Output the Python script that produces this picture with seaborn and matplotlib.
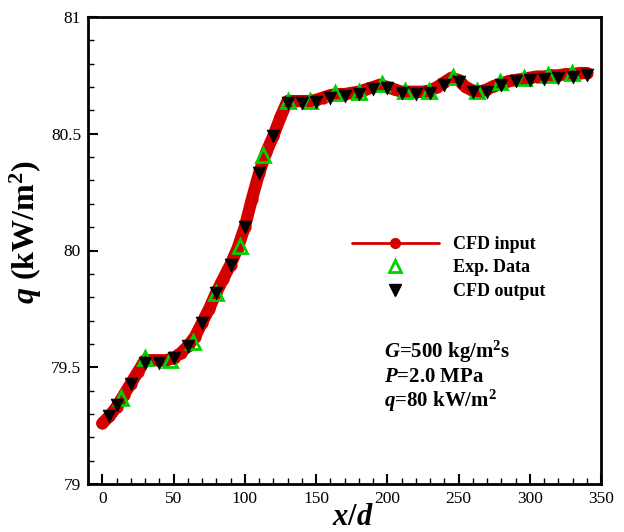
import numpy as np
import pandas as pd
import seaborn as sns
import matplotlib
matplotlib.use("Agg")
import matplotlib.pyplot as plt
from matplotlib.lines import Line2D
from matplotlib.ticker import MultipleLocator, FormatStrFormatter

# ---- data ----
cfd_in_x = [0, 5, 10, 15, 20, 25, 30, 35, 40, 45, 50, 55, 60, 65, 70, 75, 80, 85, 90, 95,
            100, 105, 110, 115, 120, 125, 130, 135, 140, 145, 150, 155, 160, 165, 170, 175,
            180, 185, 190, 195, 200, 205, 210, 215, 220, 225, 230, 235, 240, 245, 250, 255,
            260, 265, 270, 275, 280, 285, 290, 295, 300, 305, 310, 315, 320, 325, 330, 335, 340]
cfd_in_y = [79.26, 79.29, 79.33, 79.38, 79.43, 79.48, 79.53, 79.53, 79.53, 79.53, 79.54, 79.56,
            79.59, 79.63, 79.69, 79.75, 79.82, 79.88, 79.94, 80.01, 80.10, 80.22, 80.33, 80.42,
            80.49, 80.57, 80.64, 80.64, 80.64, 80.64, 80.645, 80.655, 80.665, 80.67, 80.67,
            80.675, 80.68, 80.69, 80.70, 80.71, 80.70, 80.69, 80.68, 80.68, 80.68, 80.68,
            80.685, 80.70, 80.72, 80.74, 80.73, 80.70, 80.685, 80.68, 80.69, 80.705, 80.715,
            80.725, 80.73, 80.735, 80.74, 80.745, 80.745, 80.75, 80.75, 80.755, 80.755, 80.76, 80.76]

exp_x = [13.5, 30, 47.5, 63.5, 80, 96.5, 113, 130, 146, 163, 180, 196, 212.5, 229.5, 246,
         263, 279, 296, 313, 329.5]
exp_y = [79.37, 79.54, 79.53, 79.61, 79.82, 80.02, 80.41, 80.64, 80.64, 80.675, 80.68, 80.715,
         80.685, 80.685, 80.745, 80.685, 80.72, 80.74, 80.75, 80.76]

cfd_out_x = [5, 10, 20, 30, 40, 50, 60, 70, 80, 90, 100, 110, 120, 130, 140, 150, 160, 170,
             180, 190, 200, 210, 220, 230, 240, 250, 260, 270, 280, 290, 300, 310, 320, 330, 340]
cfd_out_y = [79.29, 79.34, 79.43, 79.52, 79.52, 79.54, 79.59, 79.69, 79.82, 79.94, 80.10, 80.33,
             80.49, 80.63, 80.63, 80.635, 80.655, 80.66, 80.67, 80.69, 80.695, 80.675, 80.67,
             80.675, 80.71, 80.72, 80.68, 80.68, 80.71, 80.725, 80.73, 80.735, 80.74, 80.745, 80.75]

labels = ["CFD input", "Exp. Data", "CFD output"]
x_ticks = [0, 50, 100, 150, 200, 250, 300, 350]
y_ticks = [79, 79.5, 80, 80.5, 81]

# ---- style ----
sns.set_style("ticks")
plt.rcParams['font.family'] = ['Liberation Serif', 'DejaVu Serif']
plt.rcParams['mathtext.fontset'] = 'custom'
plt.rcParams['mathtext.rm'] = 'Liberation Serif:bold'
plt.rcParams['mathtext.it'] = 'Liberation Serif:italic:bold'
plt.rcParams['mathtext.bf'] = 'Liberation Serif:bold'
for k in ['text.color', 'axes.labelcolor', 'xtick.color', 'ytick.color', 'axes.edgecolor']:
    plt.rcParams[k] = 'black'

RED = "#d40000"
GREEN = "#00d000"

fig = plt.figure(figsize=(6.24, 5.32), dpi=100)
ax = fig.add_axes([88/624, 1-484/532, (601-88)/624, (484-17)/532])

df_in = pd.DataFrame({"x": cfd_in_x, "y": cfd_in_y})
df_out = pd.DataFrame({"x": cfd_out_x, "y": cfd_out_y})

sns.lineplot(data=df_in, x="x", y="y", ax=ax, color=RED, lw=8.8, sort=False,
             solid_capstyle="round", solid_joinstyle="round",
             marker="o", markersize=8.8, markeredgewidth=0, zorder=2)
ax.plot(exp_x, exp_y, linestyle="none", marker="^", markersize=9.5,
        markerfacecolor="none", markeredgecolor=GREEN, markeredgewidth=2.0, zorder=3)
sns.scatterplot(data=df_out, x="x", y="y", ax=ax, marker="v", s=85, color="black",
                edgecolor="black", linewidth=0.5, zorder=4)

ax.set_xlim(-10, 350)
ax.set_ylim(79, 81)
ax.set_xticks(x_ticks)
ax.set_yticks(y_ticks)
ax.xaxis.set_minor_locator(MultipleLocator(10))
ax.yaxis.set_minor_locator(MultipleLocator(0.1))
ax.yaxis.set_major_formatter(FormatStrFormatter('%g'))
ax.tick_params(which="major", direction="in", length=7, width=1.5, labelsize=12.5,
               top=False, right=False, pad=5, colors="black")
ax.tick_params(which="minor", direction="in", length=4, width=1.0, top=False, right=False,
               colors="black")
for s in ax.spines.values():
    s.set_visible(True)
    s.set_linewidth(2.0)
    s.set_color("black")

ax.set_xlabel(r"$x$/$d$", fontsize=22, fontweight="bold")
ax.set_ylabel(r"$q$ (kW/m$^{2}$)", fontsize=23, fontweight="bold")
ax.xaxis.set_label_coords((353 - 88) / 513, -(503 - 484) / 467)
ax.yaxis.set_label_coords(-(88 - 44) / 513, (484 - 232) / 467)

handles = [
    Line2D([], [], color=RED, lw=2, marker="o", markersize=7),
    Line2D([], [], linestyle="none", marker="^", markersize=9, markerfacecolor="none",
           markeredgecolor=GREEN, markeredgewidth=2),
    Line2D([], [], linestyle="none", marker="v", markersize=9, color="black"),
]
leg = ax.legend(handles, labels, loc="upper left", bbox_to_anchor=(352/624, 1-236/532),
                bbox_transform=fig.transFigure, frameon=False, borderpad=0, borderaxespad=0,
                handlelength=4.8, handletextpad=0.8, labelspacing=0.36, numpoints=1,
                prop={"family": "Liberation Serif", "weight": "bold", "size": 13})

ann_font = 15
ann_x = 384 / 624
ax.text(ann_x, 1-352/532, r"$G$=500 kg/m$^{2}$s", transform=fig.transFigure,
        fontsize=ann_font, fontweight="bold", va="center", ha="left")
ax.text(ann_x, 1-377/532, r"$P$=2.0 MPa", transform=fig.transFigure,
        fontsize=ann_font, fontweight="bold", va="center", ha="left")
ax.text(ann_x, 1-401/532, r"$q$=80 kW/m$^{2}$", transform=fig.transFigure,
        fontsize=ann_font, fontweight="bold", va="center", ha="left")

fig.savefig("out.png", dpi=100)
